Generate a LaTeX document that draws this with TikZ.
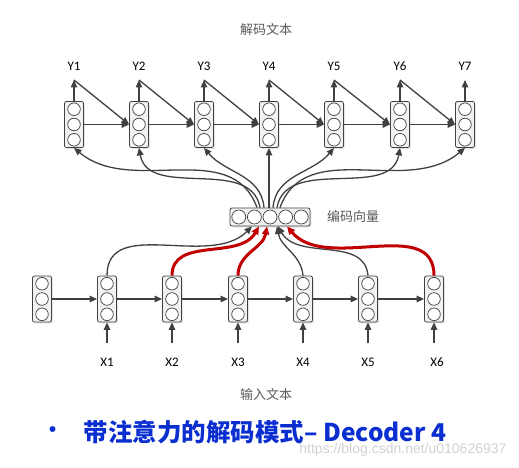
\documentclass[tikz,border=0pt]{standalone}
\usepackage{fontspec}
\setmainfont{Carlito}
\newfontfamily\cjk{Noto Sans CJK SC}
\newfontfamily\wmfont{Liberation Sans}
\usetikzlibrary{arrows.meta,shadows}

\definecolor{linegray}{HTML}{404040}
\definecolor{attred}{HTML}{C00000}
\definecolor{titleblue}{HTML}{0A2ED0}
\definecolor{boxfill}{HTML}{F2F2F2}

\tikzset{
  cellbox/.style={draw=linegray, fill=boxfill, rounded corners=2pt, inner sep=0pt,
    minimum width=19pt, minimum height=46pt, line width=0.8pt,
    drop shadow={shadow xshift=1.5pt, shadow yshift=-1.5pt, fill=black!18}},
  encbox/.style={cellbox, minimum width=80pt, minimum height=18pt},
  unit/.style={draw=linegray, fill=white, line width=0.7pt},
  arr/.style={draw=linegray, line width=1.3pt, -{Triangle[length=7.5pt,width=6.5pt]}},
  attn/.style={draw=attred, line width=3pt, -{Triangle[length=8pt,width=7pt]}},
  lbl/.style={font=\fontsize{13}{15}\selectfont},
  cnlbl/.style={font=\cjk\fontsize{13}{15}\selectfont, text=black!65}
}

% one rnn cell: box plus three units
\newcommand{\rnncell}[3]{%
  \node[cellbox] (#1) at (#2,#3) {};
  \draw[unit] (#2,#3+15.3) circle (6.3pt);
  \draw[unit] (#2,#3) circle (6.3pt);
  \draw[unit] (#2,#3-15.3) circle (6.3pt);
}

\begin{document}
\begin{tikzpicture}[x=1pt,y=1pt]
\useasboundingbox (0,0) rectangle (519,-468);
% decoder
\node[cnlbl] (dectxt) at (266,-30) {解码文本};
\rnncell{y1}{74}{-124.5}
\rnncell{y2}{139}{-124.5}
\rnncell{y3}{204}{-124.5}
\rnncell{y4}{269}{-124.5}
\rnncell{y5}{334}{-124.5}
\rnncell{y6}{400}{-124.5}
\rnncell{y7}{465}{-124.5}
\node[lbl] (ly1) at (74,-66) {Y1};
\node[lbl] (ly2) at (139,-66) {Y2};
\node[lbl] (ly3) at (204,-66) {Y3};
\node[lbl] (ly4) at (269,-66) {Y4};
\node[lbl] (ly5) at (334,-66) {Y5};
\node[lbl] (ly6) at (400,-66) {Y6};
\node[lbl] (ly7) at (465,-66) {Y7};
\coordinate (t1) at (74,-80);
\coordinate (t2) at (139,-80);
\coordinate (t3) at (204,-80);
\coordinate (t4) at (269,-80);
\coordinate (t5) at (334,-80);
\coordinate (t6) at (400,-80);
\coordinate (t7) at (465,-80);
\draw[arr] (y1.north) -- (t1);
\draw[arr] (y2.north) -- (t2);
\draw[arr] (y3.north) -- (t3);
\draw[arr] (y4.north) -- (t4);
\draw[arr] (y5.north) -- (t5);
\draw[arr] (y6.north) -- (t6);
\draw[arr] (y7.north) -- (t7);
\draw[arr] (t1) -- (y2.west);
\draw[arr] (t2) -- (y3.west);
\draw[arr] (t3) -- (y4.west);
\draw[arr] (t4) -- (y5.west);
\draw[arr] (t5) -- (y6.west);
\draw[arr] (t6) -- (y7.west);
\draw[arr] (y1.east) -- (y2.west);
\draw[arr] (y2.east) -- (y3.west);
\draw[arr] (y3.east) -- (y4.west);
\draw[arr] (y4.east) -- (y5.west);
\draw[arr] (y5.east) -- (y6.west);
\draw[arr] (y6.east) -- (y7.west);
% context vector
\node[encbox] (enc) at (270,-217) {};
\draw[unit] (238.8,-217) circle (7pt);
\draw[unit] (254.4,-217) circle (7pt);
\draw[unit] (270,-217) circle (7pt);
\draw[unit] (285.6,-217) circle (7pt);
\draw[unit] (301.2,-217) circle (7pt);
\node[cnlbl] (enctxt) at (353,-217) {编码向量};
\draw[arr] ([xshift=-13pt]enc.north) to[out=110,in=-40] (y1.south);
\draw[arr] ([xshift=-10pt]enc.north) to[out=100,in=-80] (y2.south);
\draw[arr] ([xshift=-6pt]enc.north) to[out=95,in=-50] (y3.south);
\draw[arr] (enc.north -| y4.south) -- (y4.south);
\draw[arr] ([xshift=3pt]enc.north) to[out=85,in=-130] (y5.south);
\draw[arr] ([xshift=7pt]enc.north) to[out=80,in=-100] (y6.south);
\draw[arr] ([xshift=10pt]enc.north) to[out=70,in=-140] (y7.south);
% encoder
\rnncell{x0}{42}{-299}
\rnncell{x1}{107}{-299}
\rnncell{x2}{172}{-299}
\rnncell{x3}{238}{-299}
\rnncell{x4}{303}{-299}
\rnncell{x5}{368}{-299}
\rnncell{x6}{434}{-299}
\draw[arr] (x0.east) -- (x1.west);
\draw[arr] (x1.east) -- (x2.west);
\draw[arr] (x2.east) -- (x3.west);
\draw[arr] (x3.east) -- (x4.west);
\draw[arr] (x4.east) -- (x5.west);
\draw[arr] (x5.east) -- (x6.west);
\coordinate (b1) at (107,-343);
\coordinate (b2) at (172,-343);
\coordinate (b3) at (238,-343);
\coordinate (b4) at (303,-343);
\coordinate (b5) at (368,-343);
\coordinate (b6) at (434,-343);
\draw[arr] (b1) -- (x1.south);
\draw[arr] (b2) -- (x2.south);
\draw[arr] (b3) -- (x3.south);
\draw[arr] (b4) -- (x4.south);
\draw[arr] (b5) -- (x5.south);
\draw[arr] (b6) -- (x6.south);
\node[lbl] (lx1) at (107,-362) {X1};
\node[lbl] (lx2) at (172,-362) {X2};
\node[lbl] (lx3) at (238,-362) {X3};
\node[lbl] (lx4) at (303,-362) {X4};
\node[lbl] (lx5) at (368,-362) {X5};
\node[lbl] (lx6) at (437,-362) {X6};
\node[cnlbl] (enctxt2) at (266,-395) {输入文本};
% attention
\draw[arr] (x1.north) to[out=90,in=-135] ([xshift=-18pt]enc.south);
\draw[arr] (x4.north) to[out=95,in=-80] ([xshift=7pt]enc.south);
\draw[arr] (x5.north) to[out=95,in=-60] ([xshift=8pt]enc.south);
\draw[attn] (x2.north) to[out=90,in=-120] ([xshift=-11pt]enc.south);
\draw[attn] (x3.north) to[out=90,in=-100] ([xshift=-3pt]enc.south);
\draw[attn] (x6.north) to[out=90,in=-50] ([xshift=17pt]enc.south);
% caption
\node[text=titleblue, font=\cjk\bfseries\fontsize{21}{23}\selectfont] (bul) at (53,-432) {•};
\node[text=titleblue, font=\cjk\bfseries\fontsize{24.5}{27}\selectfont] (ttl) at (265,-432) {带注意力的解码模式– Decoder 4};
\node[text=black!18, font=\wmfont\fontsize{14}{16}\selectfont, anchor=east] (wm) at (510,-450) {https://blog.csdn.net/u010626937};
\end{tikzpicture}
\end{document}
